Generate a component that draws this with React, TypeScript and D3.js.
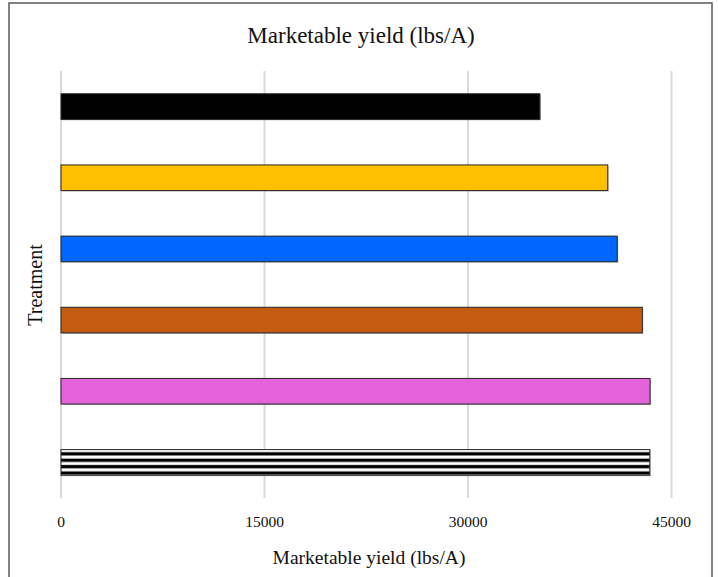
import React from "react";
import * as d3 from "d3";

const treatments = ["T1", "T2", "T3", "T4", "T5", "T6"];
const yieldValues = [35300, 40300, 41000, 42850, 43420, 43400];
const barColors = ["#000000", "#FFC000", "#0066FF", "#C55A11", "#E463DD", "stripes"];
const xTicks = [0, 15000, 30000, 45000];

const W = 718;
const H = 577;
const FONT = "'Liberation Serif', 'Times New Roman', serif";

export default function App() {
  const x = d3.scaleLinear().domain([0, 45000]).range([61, 671.5]);
  const y = d3.scaleBand<string>().domain(treatments).range([71, 498]).paddingInner(0.64).paddingOuter(0.32);

  return (
    <svg width={W} height={H} style={{ position: "absolute", left: 0, top: 0, background: "#fff" }}>
      <defs>
        <pattern id="hstripes" patternUnits="userSpaceOnUse" width="8" height="6.4" y={y("T6")}>
          <rect width="8" height="6.4" fill="#fff" />
          <rect y="2.6" width="8" height="3.3" fill="#000" />
        </pattern>
      </defs>
      <rect x={9} y={3} width={703} height={580} fill="#fff" stroke="#5a5a5a" strokeWidth={1.5} />
      {xTicks.map((t) => (
        <line key={t} x1={x(t)} x2={x(t)} y1={71} y2={498} stroke="#d9d9d9" strokeWidth={2} />
      ))}
      {treatments.map((t, i) => (
        <g key={t}>
          <rect
            x={x(0) + 1}
            y={(y(t) as number) + 1}
            width={x(yieldValues[i]) - x(0)}
            height={y.bandwidth()}
            fill="#9a9a9a"
            opacity={0.6}
          />
          <rect
            x={x(0)}
            y={y(t)}
            width={x(yieldValues[i]) - x(0)}
            height={y.bandwidth()}
            fill={barColors[i] === "stripes" ? "url(#hstripes)" : barColors[i]}
            stroke="#262626"
            strokeWidth={1}
          />
        </g>
      ))}
      {xTicks.map((t) => (
        <text key={t} x={x(t)} y={527} textAnchor="middle" fontFamily={FONT} fontSize={15.5} fill="#111">
          {t}
        </text>
      ))}
      <text x={W / 2 + 2} y={43} textAnchor="middle" fontFamily={FONT} fontSize={23} fill="#111">
        Marketable yield (lbs/A)
      </text>
      <text x={W / 2 + 10} y={564} textAnchor="middle" fontFamily={FONT} fontSize={19.5} fill="#111">
        Marketable yield (lbs/A)
      </text>
      <text
        transform={`translate(42, 285) rotate(-90)`}
        textAnchor="middle"
        fontFamily={FONT}
        fontSize={20}
        fill="#111"
      >
        Treatment
      </text>
    </svg>
  );
}
